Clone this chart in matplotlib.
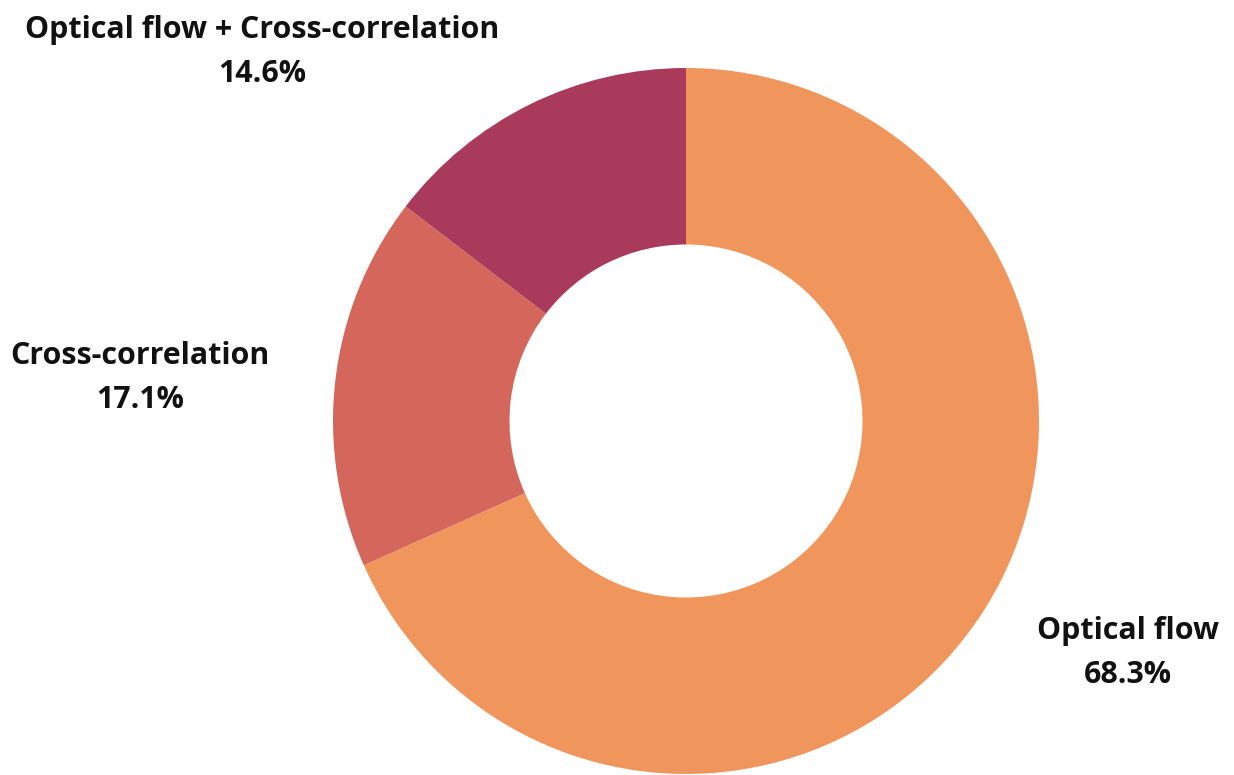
import matplotlib.pyplot as plt

# share of tracking methods
methods = ['Optical flow', 'Cross-correlation', 'Optical flow + Cross-correlation']
shares = [68.3, 17.1, 14.6]
colors = ['#F0965C', '#D4665B', '#AA3A5B']

plt.rcParams['font.family'] = ['Open Sans', 'DejaVu Sans']

W, H = 1234, 775
fig = plt.figure(figsize=(W / 100, H / 100), dpi=100)

# donut centre and radius in pixels
cx, cy, r = 686, 421, 353
ax = fig.add_axes([(cx - r) / W, (H - cy - r) / H, 2 * r / W, 2 * r / H])
ax.pie(shares, colors=colors, startangle=90, counterclock=False,
       wedgeprops=dict(width=0.5, linewidth=0))
ax.set_xlim(-1, 1)
ax.set_ylim(-1, 1)
ax.axis('off')

# label positions (pixels, centre of text block)
label_pos = [(1128, 653), (140, 378), (262, 52)]
for name, val, (x, y) in zip(methods, shares, label_pos):
    fig.text(x / W, 1 - y / H, f'{name}\n{val}%', ha='center', va='center',
             fontsize=21.9, fontweight='bold', color='#111111', linespacing=1.6)

fig.savefig('out.png', dpi=100)
